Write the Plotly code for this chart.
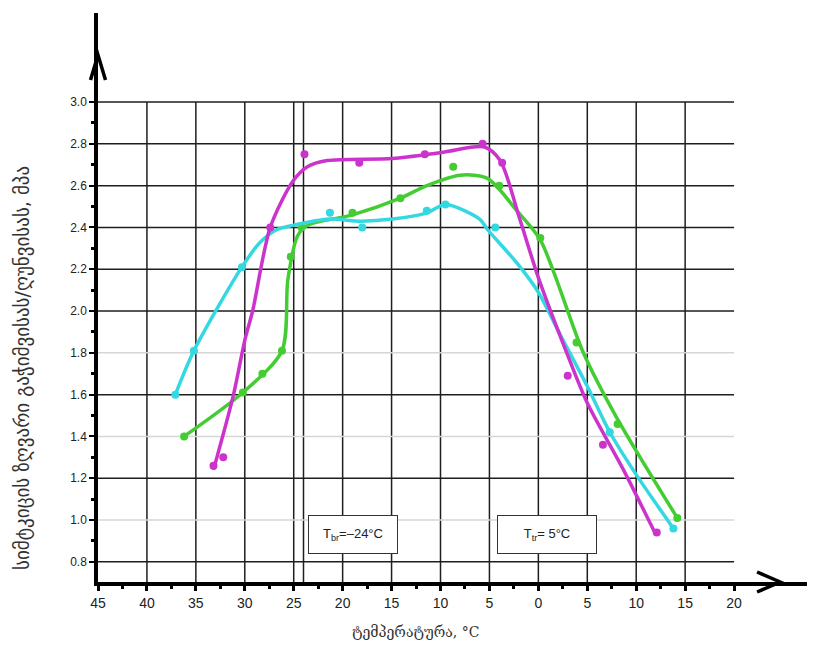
import plotly.graph_objects as go

# ---------------- data ----------------
# measured points
mag_x = [-33.2, -32.2, -27.4, -23.9, -18.3, -11.6, -5.7, -3.7, 3.0, 6.6, 12.1]
mag_y = [1.26, 1.30, 2.40, 2.75, 2.71, 2.75, 2.80, 2.71, 1.69, 1.36, 0.94]

grn_x = [-36.2, -30.2, -28.2, -26.2, -25.3, -24.2, -19.0, -14.1, -8.7, -4.0, 0.2, 3.9, 8.1, 14.2]
grn_y = [1.40, 1.61, 1.70, 1.81, 2.26, 2.40, 2.47, 2.54, 2.69, 2.60, 2.35, 1.85, 1.46, 1.01]

cyn_x = [-37.1, -35.2, -30.3, -21.3, -18.0, -11.4, -9.5, -4.4, 7.3, 13.8]
cyn_y = [1.60, 1.81, 2.21, 2.47, 2.40, 2.48, 2.51, 2.40, 1.42, 0.96]

# smoothed (fitted) curves
mag_cx = [-33.2, -31.2, -30.0, -29.2, -27.4, -25.1, -23.6, -21.6, -14.9, -9.7, -5.5, -3.9, -1.9, 0.0, 2.9, 5.0, 8.7, 11.9]
mag_cy = [1.24, 1.59, 1.86, 2.00, 2.40, 2.62, 2.69, 2.72, 2.73, 2.76, 2.785, 2.72, 2.44, 2.16, 1.80, 1.56, 1.24, 0.94]

grn_cx = [-36.2, -30.2, -26.2, -25.6, -24.6, -23.6, -19.0, -14.1, -11.4, -8.0, -5.2, -2.2, 0.2, 4.6, 8.0, 14.2]
grn_cy = [1.40, 1.61, 1.81, 2.15, 2.36, 2.41, 2.46, 2.54, 2.60, 2.65, 2.635, 2.48, 2.34, 1.80, 1.49, 1.01]

cyn_cx = [-37.1, -35.2, -30.3, -28.4, -26.7, -25.1, -21.3, -18.2, -14.9, -11.4, -9.5, -6.0, -5.2, -2.2, 0.0, 2.2, 5.0, 7.3, 10.1, 13.8]
cyn_cy = [1.60, 1.81, 2.21, 2.33, 2.39, 2.41, 2.44, 2.43, 2.44, 2.47, 2.51, 2.44, 2.39, 2.23, 2.09, 1.89, 1.64, 1.42, 1.21, 0.96]

# axis ticks
x_tickvals = [-45, -40, -35, -30, -25, -20, -15, -10, -5, 0, 5, 10, 15, 20]
x_ticktext = ["45", "40", "35", "30", "25", "20", "15", "10", "5", "0", "5", "10", "15", "20"]
x_minor = [-42.5, -37.5, -32.5, -27.5, -22.5, -17.5, -12.5, -7.5, -2.5, 2.5, 7.5, 12.5, 17.5]
y_tickvals = [0.8, 1.0, 1.2, 1.4, 1.6, 1.8, 2.0, 2.2, 2.4, 2.6, 2.8, 3.0]
y_ticktext = ["0.8", "1.0", "1.2", "1.4", "1.6", "1.8", "2.0", "2.2", "2.4", "2.6", "2.8", "3.0"]
y_minor = [0.9, 1.1, 1.3, 1.5, 1.7, 1.9, 2.1, 2.3, 2.5, 2.7, 2.9]

# grid
v_grid = [-40, -35, -30, -25, -24, -20, -15, -10, -5, 0, 5, 10, 15]
h_grid_dark = [0.8, 1.2, 1.6, 2.0, 2.2, 2.4, 2.6, 2.8, 3.0]
h_grid_light = [1.0, 1.4, 1.8]

T_br = -24
T_tr = 5

MAG = "#cc33cc"
GRN = "#44cc33"
CYN = "#33d8e0"

X_RANGE = [-45, 28.27]
Y_RANGE = [0.7035, 3.426]

fig = go.Figure()

for cx, cy, px, py, col in [
    (grn_cx, grn_cy, grn_x, grn_y, GRN),
    (cyn_cx, cyn_cy, cyn_x, cyn_y, CYN),
    (mag_cx, mag_cy, mag_x, mag_y, MAG),
]:
    fig.add_trace(go.Scatter(x=cx, y=cy, mode="lines",
                             line=dict(color=col, width=3.5, shape="spline", smoothing=0.8),
                             hoverinfo="skip", showlegend=False))
    fig.add_trace(go.Scatter(x=px, y=py, mode="markers",
                             marker=dict(color=col, size=8),
                             showlegend=False))

shapes = []
for v in v_grid:
    shapes.append(dict(type="line", xref="x", yref="y", x0=v, x1=v, y0=Y_RANGE[0], y1=3.0,
                       line=dict(color="#1e1e1e", width=1.5), layer="below"))
for h in h_grid_light:
    shapes.append(dict(type="line", xref="x", yref="y", x0=-45, x1=20, y0=h, y1=h,
                       line=dict(color="#d6d6d6", width=1.5), layer="below"))
for h in h_grid_dark:
    shapes.append(dict(type="line", xref="x", yref="y", x0=-45, x1=20, y0=h, y1=h,
                       line=dict(color="#1e1e1e", width=1.5), layer="below"))


def to_paper_x(xv):
    return (xv - X_RANGE[0]) / (X_RANGE[1] - X_RANGE[0])


def to_paper_y(yv):
    return (yv - Y_RANGE[0]) / (Y_RANGE[1] - Y_RANGE[0])


W, H = 717.0, 569.0
# y-axis arrow (chevron)
tip_y = to_paper_y(3.225)
wing_y = to_paper_y(3.105)
dx = 7.5 / W
shapes.append(dict(type="path", xref="paper", yref="paper",
                   path=f"M {-dx} {wing_y} L 0 {tip_y} L {dx} {wing_y}",
                   line=dict(color="black", width=3.5)))
# x-axis arrow (chevron)
tip_x = to_paper_x(24.70)
wing_x = to_paper_x(22.35)
dy = 10 / H
shapes.append(dict(type="path", xref="paper", yref="paper",
                   path=f"M {wing_x} {dy} L {tip_x} 0 L {wing_x} {-dy}",
                   line=dict(color="black", width=3.5)))

annotations = [
    dict(x=(T_br + (-13.8)) / 2, y=0.93, xref="x", yref="y", showarrow=False,
         text="T<sub>br</sub>=–24°C", font=dict(family="Liberation Sans", size=13, color="#222"),
         bgcolor="white", bordercolor="#333", borderwidth=1, borderpad=10, width=68),
    dict(x=(-4.2 + 6.0) / 2, y=0.93, xref="x", yref="y", showarrow=False,
         text="T<sub>tr</sub>= " + str(T_tr) + "°C", font=dict(family="Liberation Sans", size=13, color="#222"),
         bgcolor="white", bordercolor="#333", borderwidth=1, borderpad=10, width=78),
    dict(x=(22 - 98) / W, y=(582 - 368) / H, xref="paper", yref="paper", showarrow=False,
         text="სიმტკიცის ზღვარი გაჭიმვისას/ღუნვისას, მპა", textangle=-90,
         font=dict(family="DejaVu Sans", size=19, color="#333"),
         xanchor="center", yanchor="middle"),
    dict(x=(415 - 98) / W, y=(582 - 632) / H, xref="paper", yref="paper", showarrow=False,
         text="ტემპერატურა, °C", font=dict(family="DejaVu Serif", size=14, color="#333"),
         xanchor="center", yanchor="middle"),
]

# the page body adds an 8 px offset, so the figure is 8 px smaller and margins shifted
fig.update_layout(
    width=807, height=653,
    margin=dict(l=90, r=0, t=5, b=79),
    paper_bgcolor="white", plot_bgcolor="white",
    shapes=shapes, annotations=annotations,
    showlegend=False,
    xaxis=dict(range=X_RANGE, showgrid=False, zeroline=False, automargin=False,
               showline=True, linecolor="black", linewidth=3.5,
               tickmode="array", tickvals=x_tickvals, ticktext=x_ticktext,
               ticks="outside", ticklen=5, tickwidth=2.5, tickcolor="black",
               tickfont=dict(family="Liberation Sans", size=14, color="#222"),
               minor=dict(tickmode="array", tickvals=x_minor, ticks="outside",
                          ticklen=3, tickwidth=2.5, tickcolor="black", showgrid=False)),
    yaxis=dict(range=Y_RANGE, showgrid=False, zeroline=False, automargin=False,
               showline=True, linecolor="black", linewidth=3.5,
               tickmode="array", tickvals=y_tickvals, ticktext=y_ticktext,
               ticks="outside", ticklen=5, tickwidth=1.5, tickcolor="black",
               tickfont=dict(family="Liberation Sans", size=12, color="#222"),
               minor=dict(tickmode="array", tickvals=y_minor, ticks="outside",
                          ticklen=3, tickwidth=2.5, tickcolor="black", showgrid=False)),
)

fig.write_html("out.html")
